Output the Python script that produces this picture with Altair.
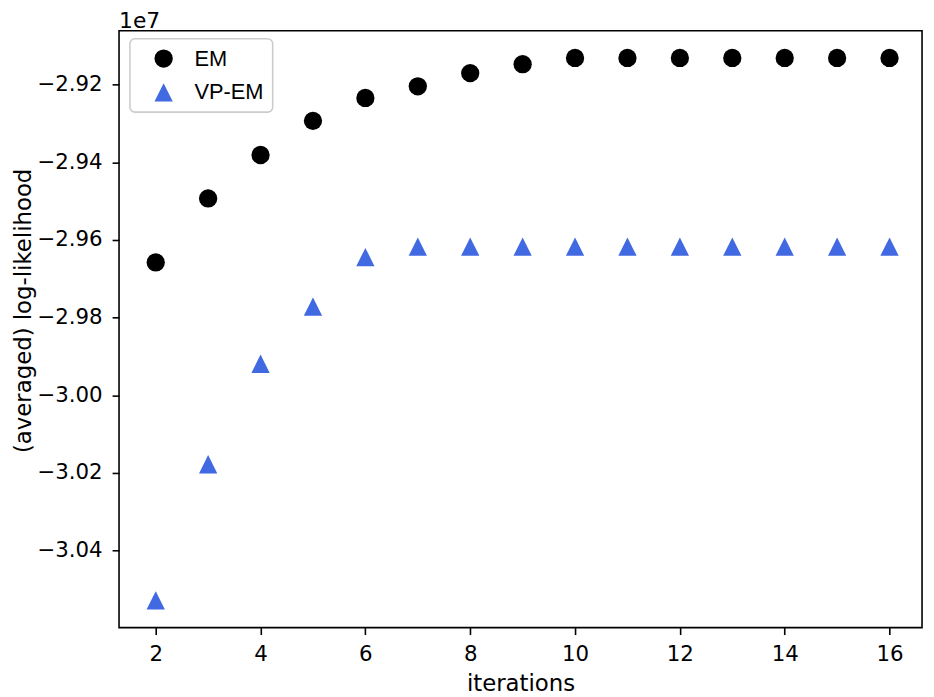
import altair as alt
import pandas as pd

# ---- data (log-likelihood in units of 1e7) ----
iterations = list(range(2, 17))
em_values = [-2.9658, -2.9493, -2.9381, -2.9293, -2.9234, -2.9204, -2.9170, -2.9147,
             -2.9131, -2.9131, -2.9131, -2.9131, -2.9131, -2.9131, -2.9131]
vpem_values = [-3.0529, -3.0178, -2.9919, -2.9772, -2.9644, -2.9617, -2.9617, -2.9617,
               -2.9617, -2.9617, -2.9617, -2.9617, -2.9617, -2.9617, -2.9617]
series_names = ["EM", "VP-EM"]
x_ticks = [2, 4, 6, 8, 10, 12, 14, 16]
y_ticks = [-3.04, -3.02, -3.00, -2.98, -2.96, -2.94, -2.92]
offset_text = ["1e7"]

df = pd.DataFrame({
    "iteration": iterations + iterations,
    "value": em_values + vpem_values,
    "series": [series_names[0]] * len(iterations) + [series_names[1]] * len(iterations),
})

tri = "M0,-1L-1,1L1,1Z"
FONT = "DejaVu Sans"

legend = alt.Legend(
    title=None, orient="none", legendX=11, legendY=8, padding=9,
    fillColor="rgba(255,255,255,0.8)", strokeColor="#cccccc", cornerRadius=5,
    labelFont="Liberation Sans", labelFontSize=22, labelColor="black",
    labelOffset=20, symbolOffset=14, rowPadding=12, symbolSize=340,
    symbolStrokeWidth=0, symbolOpacity=1,
    labelExpr="datum.label == 'EM' ? '\u00a0\u00a0EM' : datum.label",
)

points = alt.Chart(df).mark_point(filled=True, opacity=1, size=340, strokeWidth=0).encode(
    x=alt.X("iteration:Q",
            scale=alt.Scale(domain=[1.3, 16.62], nice=False, zero=False),
            axis=alt.Axis(values=x_ticks, title="iterations", labelPadding=9,
                          labelFontSize=21.5, titleFontSize=23, titleY=63,
                          titleBaseline="alphabetic", labelFlush=False, labelOverlap=False)),
    y=alt.Y("value:Q",
            scale=alt.Scale(domain=[-3.0599, -2.9061], nice=False, zero=False),
            axis=alt.Axis(values=y_ticks, format=".2f",
                          labelExpr="replace(datum.label, '-', '\u2212')",
                          title="(averaged) log-likelihood", labelPadding=10,
                          labelFontSize=21.5, titleFontSize=23, titleAngle=270,
                          titleX=-107, titleY=282, titleAlign="center",
                          titleBaseline="top", labelOverlap=False)),
    color=alt.Color("series:N", scale=alt.Scale(domain=series_names, range=["#000000", "#4169e1"]),
                    legend=legend),
    shape=alt.Shape("series:N", scale=alt.Scale(domain=series_names, range=["circle", tri]),
                    legend=legend),
)

scale_note = alt.Chart(pd.DataFrame({"t": offset_text})).mark_text(
    align="left", baseline="alphabetic", font=FONT, fontSize=22, color="black"
).encode(text="t:N", x=alt.value(0), y=alt.value(-3))

chart = alt.layer(points, scale_note).properties(
    width=810, height=602,
    autosize=alt.AutoSizeParams(type="none"),
    padding={"left": 112, "top": 20, "right": 4, "bottom": 70},
).configure_view(
    stroke="black", strokeWidth=1.6
).configure_axis(
    domain=False, grid=False, ticks=True, tickColor="black", tickWidth=1.6, tickSize=7,
    labelFont=FONT, labelColor="black", titleFont=FONT, titleColor="black",
    titleFontWeight="normal",
).configure_legend(
    strokeWidth=1.6
)

chart.save("out.html", embed_options={"renderer": "svg", "actions": False})
